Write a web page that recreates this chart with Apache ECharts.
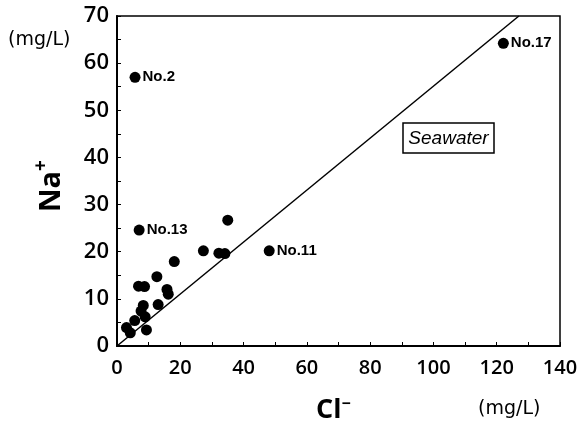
<!DOCTYPE html>
<html><head><meta charset="utf-8">
<script src="https://cdn.jsdelivr.net/npm/echarts@6/dist/echarts.min.js"></script>
<style>html,body{margin:0;padding:0;background:#fff}#c{width:584px;height:422px}</style>
</head><body><div id="c"></div>
<script>
// Sample data
const sampleNames = ["No.2","No.17","No.13","No.11","","","","","","","","","","","","","","","","","",""];
const clValues = [5.7,122.1,7.0,48.1,35.0,27.3,32.2,34.1,18.1,12.6,6.8,8.7,15.8,16.2,13.0,8.3,7.6,8.9,5.6,9.3,3.0,4.2];
const naValues = [57.0,64.2,24.6,20.2,26.7,20.2,19.7,19.6,17.9,14.7,12.7,12.6,12.0,11.0,8.8,8.6,7.4,6.2,5.4,3.4,3.9,2.8];
// Seawater Na/Cl line endpoints
const seawaterCl = [0, 127];
const seawaterNa = [0, 70];
const xTicks = [0,20,40,60,80,100,120,140];
const yTicks = [0,10,20,30,40,50,60,70];

const points = clValues.map((c,i)=>({value:[c,naValues[i]], name:sampleNames[i]}));
const linePts = seawaterCl.map((c,i)=>[c,seawaterNa[i]]);
const font = '"Open Sans", "DejaVu Sans", sans-serif';

const chart = echarts.init(document.getElementById('c'));
chart.setOption({
  backgroundColor:'#fff',
  animation:false,
  grid:{left:117,right:24,top:16,bottom:76,show:true,borderColor:'#000',borderWidth:1.5,backgroundColor:'transparent'},
  xAxis:{type:'value',min:0,max:140,interval:20,
    axisLine:{show:true,lineStyle:{color:'#000',width:2}},
    axisTick:{show:true,inside:true,length:4,lineStyle:{color:'#000'}},
    minorTick:{show:true,splitNumber:2,length:4,lineStyle:{color:'#000'}},
    splitLine:{show:false},
    axisLabel:{color:'#000',fontSize:20,fontWeight:600,fontFamily:font,margin:12,
      formatter:v=>xTicks.includes(v)?String(v):''}},
  yAxis:{type:'value',min:0,max:70,interval:10,
    axisLine:{show:true,lineStyle:{color:'#000',width:2}},
    axisTick:{show:true,inside:true,length:4,lineStyle:{color:'#000'}},
    minorTick:{show:true,splitNumber:2,length:4,lineStyle:{color:'#000'}},
    splitLine:{show:false},
    axisLabel:{color:'#000',fontSize:22,fontWeight:600,fontFamily:font,margin:8,padding:[5,0,0,0],
      formatter:v=>yTicks.includes(v)?String(v):''}},
  series:[
    {type:'line',data:linePts,symbol:'none',lineStyle:{color:'#000',width:1.5},z:1,silent:true},
    {type:'scatter',data:points,symbol:'circle',symbolSize:11,itemStyle:{color:'#000',opacity:1},z:3,
      label:{show:true,position:'right',distance:2,formatter:p=>p.name,color:'#000',fontSize:15,fontWeight:'bold',fontFamily:'"Liberation Sans", Arial, sans-serif'}}
  ],
  graphic:[
    {type:'text',left:8,top:31,style:{text:'(mg/L)',font:'19px "DejaVu Sans", sans-serif',fill:'#000'}},
    {type:'text',left:478,top:400,style:{text:'(mg/L)',font:'19px "DejaVu Sans", sans-serif',fill:'#000'}},
    {type:'text',x:316,y:396,style:{text:'{b|Cl}{s|−}',rich:{b:{font:'bold 27px '+font,fill:'#000',verticalAlign:'bottom'},s:{font:'bold 16px '+font,fill:'#000',verticalAlign:'top',padding:[0,0,12,0]}}}},
    {type:'text',x:32,y:212,rotation:Math.PI/2,style:{text:'{b|Na}{s|+}',rich:{b:{font:'bold 29px '+font,fill:'#000'},s:{font:'bold 19px '+font,fill:'#000',padding:[0,0,20,0]}}}},
    {type:'rect',shape:{x:403,y:123,width:91,height:30},style:{fill:'#fff',stroke:'#000',lineWidth:1.5}},
    {type:'text',x:448.5,y:138.5,style:{text:'Seawater',font:'italic 19px "Liberation Sans", Arial, sans-serif',fill:'#000',textAlign:'center',textVerticalAlign:'middle'}}
  ]
});
</script></body></html>
